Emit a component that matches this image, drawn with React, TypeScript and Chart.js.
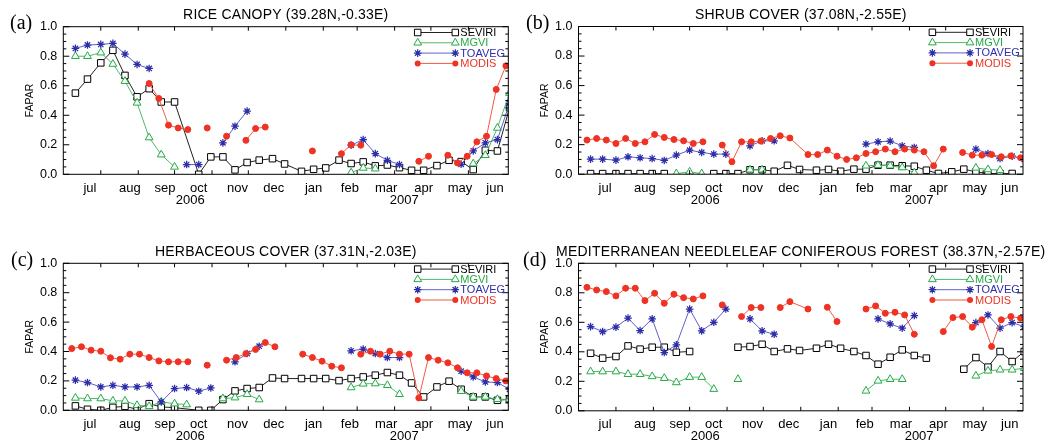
import React, { useEffect, useRef } from "react";
import { Chart, registerables } from "chart.js";

Chart.register(...registerables);
Chart.defaults.font.family = "'Liberation Sans', Arial, sans-serif";
Chart.defaults.color = "#000";

// N = no data (line breaks), _ = no sample but the line runs on to the next one
const N = null;
const _ = undefined;

// ---- time grids (days since 1 July 2006) ----
const DEKAD_DAYS = [10, 20, 31, 41, 51, 61, 71, 81, 92, 102, 112, 122, 132, 142, 152, 162, 173, 183,
  197, 207, 217, 228, 238, 248, 258, 268, 278, 288, 298, 309, 319, 329, 339, 349, 359, 369];
const MODIS_DAYS = [7, 15, 23, 31, 39, 47, 55, 63, 71, 79, 87, 95, 103, 111, 119, 127, 135, 143, 151, 159, 167, 175,
  190, 198, 206, 214, 222, 230, 238, 246, 254, 262, 270, 278, 286, 294, 302, 310, 318, 326, 334, 342, 350, 358, 366];

const MONTH_LABELS = ["jul", "aug", "sep", "oct", "nov", "dec", "jan", "feb", "mar", "apr", "may", "jun"];
const MONTH_LABEL_DAYS = [22, 55, 84, 112, 144, 174, 207, 237, 267, 298, 328, 357];
const MONTH_START_DAYS = [31, 62, 92, 123, 153, 184, 215, 243, 274, 304, 335];
const YEAR_LABELS = ["2006", "2007"];
const YEAR_LABEL_DAYS = [105, 282];
const Y_TICKS = [0, 0.2, 0.4, 0.6, 0.8, 1.0];
const SERIES_NAMES = ["SEVIRI", "MGVI", "TOAVEG", "MODIS"];

// ---- (a) rice canopy ----
const SEVIRI_A = [0.55, 0.645, 0.755, 0.84, 0.67, 0.525, 0.58, 0.49, 0.49, _, 0.0, 0.118, 0.118, 0.03, 0.08, 0.096, 0.106, 0.07,
  0.02, 0.034, 0.043, 0.096, 0.073, 0.084, 0.057, 0.063, 0.045, 0.027, 0.027, 0.059, 0.095, 0.086, 0.032, 0.163, 0.158, 0.45];
const MGVI_A = [0.8, 0.8, 0.824, 0.747, 0.631, 0.484, 0.249, 0.133, 0.05, N, N, N, N, N, N, N, N, N,
  N, N, N, N, 0.011, 0.043, 0.038, N, N, N, N, N, N, N, 0.072, 0.129, 0.314, 0.55];
const TOAVEG_A = [0.853, 0.876, 0.88, 0.887, 0.814, 0.744, 0.717, N, N, 0.066, 0.066, N, 0.213, 0.326, 0.428, N, N, N,
  N, N, N, N, 0.197, 0.235, 0.14, 0.095, 0.066, N, N, N, N, 0.068, 0.158, 0.213, 0.235, 0.48];
const MODIS_A = [N, N, N, N, N, N, N, N, 0.615, 0.514, 0.333, 0.314, 0.303, N, 0.314, N, 0.258, N, 0.23, 0.31, 0.32, N,
  N, N, 0.158, N, N, 0.14, 0.2, 0.197, N, N, N, N, N, 0.088, 0.122, N, 0.129, 0.077, 0.122, 0.22, 0.258, 0.575, 0.735];

// ---- (b) shrub cover ----
const SEVIRI_B = [0.004, 0.004, 0.004, 0.004, 0.004, 0.004, 0.004, N, N, N, 0.004, 0.004, 0.004, 0.03, 0.03, 0.02, 0.06, 0.032,
  0.027, 0.032, 0.02, 0.034, 0.034, 0.061, 0.061, 0.057, 0.054, 0.027, 0.005, 0.016, 0.034, 0.016, 0.005, 0.004, 0.005, N];
const MGVI_B = [N, N, N, N, N, N, N, 0.004, 0.016, 0.004, N, N, N, 0.03, 0.03, N, N, N,
  N, N, N, N, 0.057, 0.061, 0.057, 0.045, 0.01, N, N, N, N, 0.043, 0.032, 0.027, N, N];
const TOAVEG_B = [0.102, 0.102, 0.095, 0.118, 0.111, 0.106, 0.093, 0.129, 0.163, 0.147, 0.136, 0.136, N, 0.192, 0.226, 0.226, N, N,
  N, N, N, N, 0.204, 0.219, 0.224, 0.192, 0.181, N, N, N, N, 0.17, 0.14, 0.106, 0.122, 0.1];
const MODIS_B = [0.231, 0.242, 0.231, 0.208, 0.242, 0.208, 0.219, 0.269, 0.249, 0.235, 0.226, 0.208, 0.219, N, 0.197, 0.084, 0.219, 0.219, 0.224, 0.242, 0.26, 0.245,
  0.133, 0.133, 0.163, 0.122, 0.1, 0.111, 0.14, 0.152, 0.17, 0.152, 0.17, 0.163, 0.152, 0.057, 0.17, N, 0.147, 0.129, 0.129, 0.133, 0.118, 0.124, 0.111];

// ---- (c) herbaceous cover ----
const SEVIRI_C = [0.03, 0.007, 0.0, 0.02, 0.027, 0.007, 0.045, 0.023, 0.018, _, 0.0, 0.0, 0.073, 0.132, 0.148, 0.155, 0.22, 0.216,
  0.216, 0.216, 0.216, 0.202, 0.216, 0.227, 0.239, 0.257, 0.239, 0.186, 0.091, 0.159, 0.198, 0.143, 0.091, 0.091, 0.068, 0.075];
const MGVI_C = [0.084, 0.08, 0.08, 0.064, 0.064, 0.034, 0.027, 0.057, 0.045, 0.039, N, N, 0.08, 0.086, 0.109, 0.073, N, N,
  N, N, N, N, 0.155, 0.18, 0.182, 0.17, 0.109, N, N, N, N, 0.13, 0.091, 0.091, 0.075, 0.075];
const TOAVEG_C = [0.205, 0.189, 0.159, 0.17, 0.159, 0.159, 0.17, 0.057, 0.148, 0.155, 0.13, 0.152, N, 0.33, 0.386, 0.436, N, N,
  N, N, N, N, 0.405, 0.416, 0.386, 0.359, 0.359, N, N, N, N, 0.266, 0.227, 0.193, 0.189, 0.143];
const MODIS_C = [0.42, 0.432, 0.409, 0.402, 0.357, 0.348, 0.382, 0.382, 0.359, 0.336, 0.33, 0.33, 0.33, N, 0.307, N, 0.341, 0.359, 0.385, 0.414, 0.461, 0.432,
  N, 0.382, 0.359, 0.334, 0.3, 0.289, N, 0.382, 0.402, 0.382, 0.402, 0.382, 0.382, 0.084, 0.359, 0.341, 0.323, 0.289, 0.255, 0.255, 0.234, 0.216, 0.2];

// ---- (d) mediterranean needleleaf coniferous forest ----
const SEVIRI_D = [0.39, 0.357, 0.368, 0.44, 0.418, 0.431, 0.431, 0.397, 0.402, N, N, N, 0.431, 0.436, 0.451, 0.402, 0.42, 0.409,
  0.424, 0.451, 0.424, 0.402, 0.375, 0.316, 0.363, 0.413, 0.375, 0.357, N, N, 0.282, 0.361, 0.296, 0.402, 0.334, 0.402];
const MGVI_D = [0.266, 0.266, 0.266, 0.248, 0.248, 0.233, 0.221, 0.192, 0.228, 0.228, 0.147, N, 0.214, N, N, N, N, N,
  N, N, N, N, 0.135, 0.203, 0.214, 0.214, N, N, N, N, N, 0.237, 0.271, 0.278, 0.278, 0.289];
const TOAVEG_D = [0.571, 0.537, 0.567, 0.628, 0.544, 0.623, 0.395, 0.447, 0.69, 0.542, 0.6, 0.69, N, 0.623, 0.542, 0.519, N, N,
  N, N, N, N, N, 0.623, 0.589, 0.56, 0.646, N, N, N, N, 0.598, 0.65, 0.56, 0.598, 0.571];
const MODIS_D = [0.837, 0.819, 0.808, 0.779, 0.831, 0.831, 0.747, 0.797, 0.729, 0.79, 0.767, 0.758, 0.779, N, 0.718, N, 0.639, 0.7, 0.7, N, 0.7, 0.74,
  0.69, N, 0.702, 0.605, N, N, 0.69, 0.711, 0.661, 0.668, 0.65, 0.519, N, N, 0.537, 0.632, 0.639, 0.567, 0.617, 0.436, 0.617, 0.639, 0.628];

// ---- styles ----
const X_MAX = 368;
const Y_W = 40;
const X_H = 30;

type Style = { line: string; stroke: string; fill: string; text: string; shape: string; r: number; lw: number };
const STYLES: Style[] = [
  { line: "#222", stroke: "#000", fill: "#fff", text: "#000", shape: "rect", r: 4.6, lw: 1 },
  { line: "rgb(80,185,105)", stroke: "rgb(35,170,70)", fill: "#fff", text: "rgb(35,170,70)", shape: "triangle", r: 4.5, lw: 1 },
  { line: "rgb(95,95,205)", stroke: "rgb(45,45,170)", fill: "rgb(45,45,170)", text: "rgb(45,45,175)", shape: "star", r: 3.8, lw: 1.25 },
  { line: "rgb(242,90,65)", stroke: "rgb(238,50,35)", fill: "rgb(238,50,35)", text: "rgb(238,50,35)", shape: "circle", r: 3.0, lw: 1 },
];

type Area = { left: number; top: number; right: number; bottom: number };
type PanelSpec = {
  key: string; letter: string; title: string;
  left: number; top: number; width: number; height: number;
  area: Area; letterX: number;
  series: (number | null | undefined)[][];
};

const PANELS: PanelSpec[] = [
  { key: "a", letter: "(a)", title: "RICE CANOPY (39.28N,-0.33E)", left: 0, top: 0, width: 518, height: 223,
    area: { left: 63.3, top: 26.7, right: 508.3, bottom: 174.3 }, letterX: 10,
    series: [SEVIRI_A, MGVI_A, TOAVEG_A, MODIS_A] },
  { key: "b", letter: "(b)", title: "SHRUB COVER (37.08N,-2.55E)", left: 518, top: 0, width: 535, height: 223,
    area: { left: 60.5, top: 26.5, right: 505, bottom: 174.2 }, letterX: 8,
    series: [SEVIRI_B, MGVI_B, TOAVEG_B, MODIS_B] },
  { key: "c", letter: "(c)", title: "HERBACEOUS COVER (37.31N,-2.03E)", left: 0, top: 223, width: 518, height: 223,
    area: { left: 63.3, top: 40.3, right: 508.3, bottom: 187.3 }, letterX: 11,
    series: [SEVIRI_C, MGVI_C, TOAVEG_C, MODIS_C] },
  { key: "d", letter: "(d)", title: "MEDITERRANEAN NEEDLELEAF CONIFEROUS FOREST (38.37N,-2.57E)", left: 518, top: 223, width: 535, height: 223,
    area: { left: 60.5, top: 40.3, right: 505, bottom: 187.8 }, letterX: 5,
    series: [SEVIRI_D, MGVI_D, TOAVEG_D, MODIS_D] },
];

function toPoints(days: number[], vals: (number | null | undefined)[]) {
  const pts: { x: number; y: number | null }[] = [];
  vals.forEach((v, i) => {
    if (v === undefined) return;
    pts.push({ x: days[i], y: v });
  });
  return pts;
}

function drawMarker(ctx: CanvasRenderingContext2D, s: Style, x: number, y: number) {
  const r = s.r;
  ctx.save();
  ctx.lineWidth = s.lw;
  ctx.strokeStyle = s.stroke;
  ctx.fillStyle = s.fill;
  ctx.beginPath();
  if (s.shape === "rect") {
    const h = r * Math.SQRT1_2;
    ctx.rect(x - h, y - h, 2 * h, 2 * h);
    ctx.fill();
    ctx.stroke();
  } else if (s.shape === "triangle") {
    let a = 0;
    ctx.moveTo(x + Math.sin(a) * r, y - Math.cos(a) * r);
    a += (2 * Math.PI) / 3;
    ctx.lineTo(x + Math.sin(a) * r, y - Math.cos(a) * r);
    a += (2 * Math.PI) / 3;
    ctx.lineTo(x + Math.sin(a) * r, y - Math.cos(a) * r);
    ctx.closePath();
    ctx.fill();
    ctx.stroke();
  } else if (s.shape === "star") {
    const d = r * Math.SQRT1_2;
    ctx.moveTo(x - r, y); ctx.lineTo(x + r, y);
    ctx.moveTo(x, y - r); ctx.lineTo(x, y + r);
    ctx.moveTo(x - d, y - d); ctx.lineTo(x + d, y + d);
    ctx.moveTo(x - d, y + d); ctx.lineTo(x + d, y - d);
    ctx.stroke();
  } else {
    ctx.arc(x, y, r, 0, Math.PI * 2);
    ctx.fill();
  }
  ctx.restore();
}

function idlPlugin(spec: PanelSpec) {
  return {
    id: "idl-" + spec.key,
    afterDraw(chart: any) {
      const ctx: CanvasRenderingContext2D = chart.ctx;
      const a = chart.chartArea;
      const xs = chart.scales.x;
      const ys = chart.scales.y;
      const seg = (x1: number, y1: number, x2: number, y2: number) => {
        ctx.beginPath(); ctx.moveTo(x1, y1); ctx.lineTo(x2, y2); ctx.stroke();
      };
      ctx.save();
      ctx.strokeStyle = "#000";
      ctx.lineWidth = 1;
      ctx.strokeRect(a.left, a.top, a.right - a.left, a.bottom - a.top);
      for (let i = 0; i <= 20; i++) {
        const y = ys.getPixelForValue(i / 20);
        const len = i % 4 === 0 ? 6 : 3;
        seg(a.left, y, a.left + len, y);
        seg(a.right, y, a.right - len, y);
      }
      MONTH_START_DAYS.forEach((d) => {
        const x = xs.getPixelForValue(d);
        seg(x, a.bottom, x, a.bottom - 4);
        seg(x, a.top, x, a.top + 4);
      });

      ctx.fillStyle = "#000";
      // title
      ctx.font = "14px 'Liberation Sans', Arial, sans-serif";
      (ctx as any).letterSpacing = "0.2px";
      ctx.textAlign = "center";
      ctx.textBaseline = "alphabetic";
      ctx.fillText(spec.title, (a.left + a.right) / 2, a.top - 7.4);
      (ctx as any).letterSpacing = "0px";
      // panel letter
      ctx.font = "20px 'Liberation Serif', 'Times New Roman', serif";
      ctx.textAlign = "left";
      ctx.fillText(spec.letter, spec.letterX, a.top + 2.5);
      // y title
      ctx.save();
      ctx.translate(a.left - 33, (a.top + a.bottom) / 2);
      ctx.rotate(-Math.PI / 2);
      ctx.font = "10.5px 'Liberation Sans', Arial, sans-serif";
      ctx.textAlign = "center";
      ctx.textBaseline = "middle";
      ctx.fillText("FAPAR", 0, 0);
      ctx.restore();
      // years
      ctx.font = "13px 'Liberation Sans', Arial, sans-serif";
      ctx.textAlign = "center";
      ctx.textBaseline = "middle";
      YEAR_LABELS.forEach((t, i) => ctx.fillText(t, xs.getPixelForValue(YEAR_LABEL_DAYS[i]), a.bottom + 26));
      // legend
      ctx.font = "11px 'Liberation Sans', Arial, sans-serif";
      ctx.textAlign = "left";
      SERIES_NAMES.forEach((name, k) => {
        const s = STYLES[k];
        const y = a.top + 5.8 + 10.3 * k;
        const x1 = a.right - 90.6;
        const x2 = a.right - 53;
        ctx.strokeStyle = s.line;
        ctx.lineWidth = 1;
        seg(x1, y, x2, y);
        drawMarker(ctx, s, x1, y);
        drawMarker(ctx, s, x2, y);
        ctx.fillStyle = s.text;
        ctx.fillText(name, x2 + 5, y + 0.5);
      });
      ctx.restore();
    },
  };
}

function Panel({ spec }: { spec: PanelSpec }) {
  const ref = useRef<HTMLCanvasElement>(null);
  useEffect(() => {
    if (!ref.current) return;
    const grids = [DEKAD_DAYS, DEKAD_DAYS, DEKAD_DAYS, MODIS_DAYS];
    const datasets = spec.series.map((vals, k) => {
      const s = STYLES[k];
      return {
        label: SERIES_NAMES[k],
        data: toPoints(grids[k], vals),
        borderColor: s.line,
        borderWidth: 1,
        pointStyle: s.shape,
        pointRadius: s.r,
        pointBorderColor: s.stroke,
        pointBackgroundColor: s.fill,
        pointBorderWidth: s.lw,
        spanGaps: false,
        tension: 0,
        clip: 0,
        order: 3 - k,
      };
    });
    const a = spec.area;
    const chart = new Chart(ref.current, {
      type: "line",
      data: { datasets } as any,
      options: {
        responsive: false,
        animation: false,
        devicePixelRatio: 1,
        events: [],
        layout: {
          padding: { left: a.left - Y_W, right: spec.width - a.right, top: a.top, bottom: spec.height - a.bottom - X_H },
        },
        plugins: { legend: { display: false }, tooltip: { enabled: false }, title: { display: false } },
        scales: {
          x: {
            type: "linear", min: 0, max: X_MAX,
            grid: { display: false, drawTicks: false }, border: { display: false },
            afterBuildTicks: (sc: any) => { sc.ticks = MONTH_LABEL_DAYS.map((v) => ({ value: v })); },
            afterFit: (sc: any) => { sc.height = X_H; },
            ticks: {
              autoSkip: false, maxRotation: 0, minRotation: 0, padding: 6, color: "#000",
              font: { size: 13 },
              callback: (_v: any, i: number) => MONTH_LABELS[i],
            },
          },
          y: {
            type: "linear", min: 0, max: 1,
            grid: { display: false, drawTicks: false }, border: { display: false },
            afterBuildTicks: (sc: any) => { sc.ticks = Y_TICKS.map((v) => ({ value: v })); },
            afterFit: (sc: any) => { sc.width = Y_W; },
            ticks: { padding: 6, color: "#000", font: { size: 12.5 }, callback: (v: any) => Number(v).toFixed(1) },
          },
        },
      } as any,
      plugins: [idlPlugin(spec)],
    });
    return () => chart.destroy();
  }, [spec]);
  return (
    <div style={{ position: "absolute", left: spec.left, top: spec.top, width: spec.width, height: spec.height }}>
      <canvas ref={ref} width={spec.width} height={spec.height} style={{ width: spec.width, height: spec.height, display: "block" }} />
    </div>
  );
}

export default function App() {
  useEffect(() => {
    document.body.style.margin = "0";
  }, []);
  return (
    <div style={{ position: "absolute", left: 0, top: 0, width: 1053, height: 446, background: "#fff", overflow: "hidden" }}>
      {PANELS.map((p) => (
        <Panel key={p.key} spec={p} />
      ))}
    </div>
  );
}
